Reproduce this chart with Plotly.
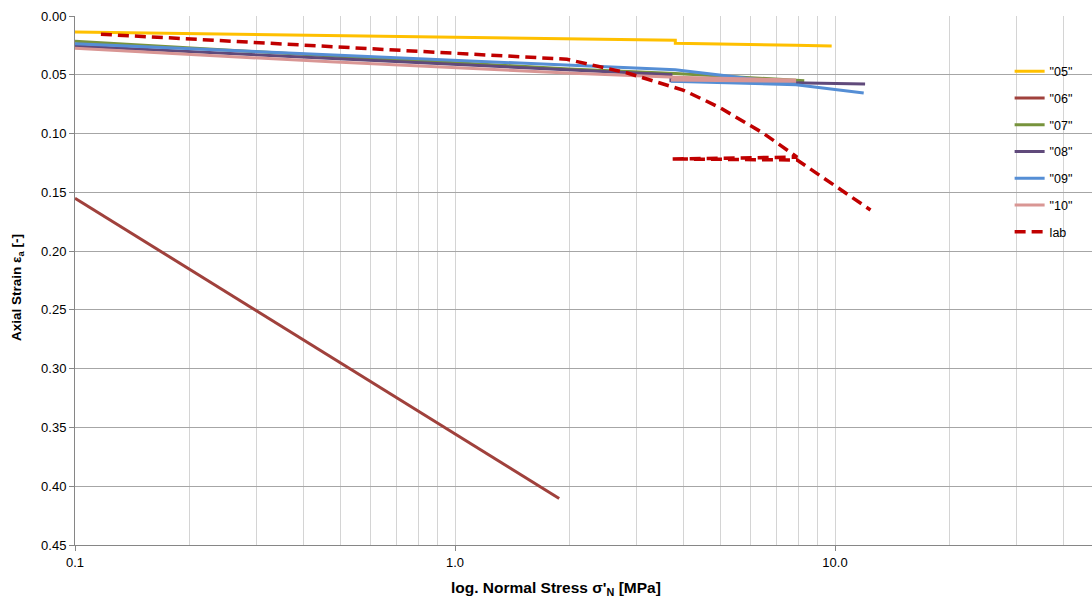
import plotly.graph_objects as go

# ---- data ----
names = ['"05"', '"06"', '"07"', '"08"', '"09"', '"10"', 'lab']

x05 = [0.1, 1.9, 3.8, 3.8, 7.85, 7.85, 9.8]
y05 = [0.0136, 0.019, 0.0206, 0.0232, 0.0243, 0.0248, 0.0256]

x06 = [0.1, 1.88]
y06 = [0.155, 0.4105]

x07 = [0.1, 0.5, 2.0, 3.8, 8.3]
y07 = [0.0215, 0.0345, 0.045, 0.049, 0.055]

x08 = [0.1, 1.9, 3.7, 3.7, 7.9, 12.0]
y08 = [0.0255, 0.045, 0.050, 0.055, 0.0565, 0.0578]

x09 = [0.1, 1.97, 3.8, 7.9, 3.7, 7.9, 11.9]
y09 = [0.0236, 0.0417, 0.0458, 0.058, 0.0555, 0.0585, 0.0655]

x10 = [0.1, 0.47, 1.97, 3.8, 7.9, 3.7, 7.9]
y10 = [0.0275, 0.039, 0.0485, 0.052, 0.0545, 0.0545, 0.0555]

xlab = [0.117, 1.97, 2.84, 3.98, 4.52, 4.98, 6.46, 7.95, 3.72, 7.95, 12.4]
ylab = [0.0155, 0.0368, 0.0485, 0.063, 0.0714, 0.078, 0.0995, 0.12, 0.1216, 0.1225, 0.165]

x_tickvals = [0.1, 1, 10]
x_ticktext = ["0.1", "1.0", "10.0"]
x_minor = [0.2, 0.3, 0.4, 0.5, 0.6, 0.7, 0.8, 0.9,
           2, 3, 4, 5, 6, 7, 8, 9, 20, 30, 40]

x_title = "log. Normal Stress σ'<sub>N</sub> [MPa]"
y_title = "Axial Strain ε<sub>a</sub> [-]"

series = [(x05, y05), (x06, y06), (x07, y07), (x08, y08), (x09, y09), (x10, y10), (xlab, ylab)]
colors = ["#FFC000", "#A0413C", "#77933C", "#604A7B", "#558ED5", "#D99694", "#C00000"]

fig = go.Figure()
for i, (xs, ys) in enumerate(series):
    is_lab = names[i] == "lab"
    fig.add_trace(go.Scatter(
        x=xs, y=ys, mode="lines", name=names[i],
        legendgroup=names[i],
        line=dict(color=colors[i], width=3.5 if is_lab else 3,
                  dash="11px,6px" if is_lab else "solid"),
    ))

font = "Liberation Sans, Arial, sans-serif"
fig.update_layout(
    width=1092, height=602,
    margin=dict(l=75, r=0, t=16, b=57),
    paper_bgcolor="white", plot_bgcolor="white",
    font=dict(family=font, size=12, color="#000000"),
    showlegend=True,
    legend=dict(x=0.919, y=0.923, xanchor="left", yanchor="top",
                bgcolor="rgba(0,0,0,0)", tracegroupgap=7.5,
                font=dict(size=12.5, family=font)),
    xaxis=dict(
        type="log", range=[-1, -1 + 1017 / 380],
        tickvals=x_tickvals, ticktext=x_ticktext,
        ticks="outside", ticklen=5, tickcolor="#868686",
        showline=True, linecolor="#868686", linewidth=1,
        showgrid=True, gridcolor="#D4D4D4", gridwidth=1,
        minor=dict(tickvals=x_minor, showgrid=True, gridcolor="#D4D4D4", gridwidth=1),
        zeroline=False,
        tickfont=dict(size=13),
    ),
    yaxis=dict(
        range=[0.45, 0], dtick=0.05, tickformat=".2f",
        ticks="outside", ticklen=5, tickcolor="#868686",
        showline=True, linecolor="#868686", linewidth=1,
        showgrid=True, gridcolor="#A6A6A6", gridwidth=1,
        zeroline=False,
        tickfont=dict(size=13),
    ),
    annotations=[
        dict(text=x_title, xref="paper", yref="paper", x=0.473, y=-0.0813,
             xanchor="center", yanchor="middle", showarrow=False,
             font=dict(size=15.5, family=font, weight="bold")),
        dict(text=y_title, xref="paper", yref="paper", x=-0.056, y=0.486,
             xanchor="center", yanchor="middle", showarrow=False, textangle=-90,
             font=dict(size=13.5, family=font, weight="bold")),
    ],
)

fig.write_html("out.html")
